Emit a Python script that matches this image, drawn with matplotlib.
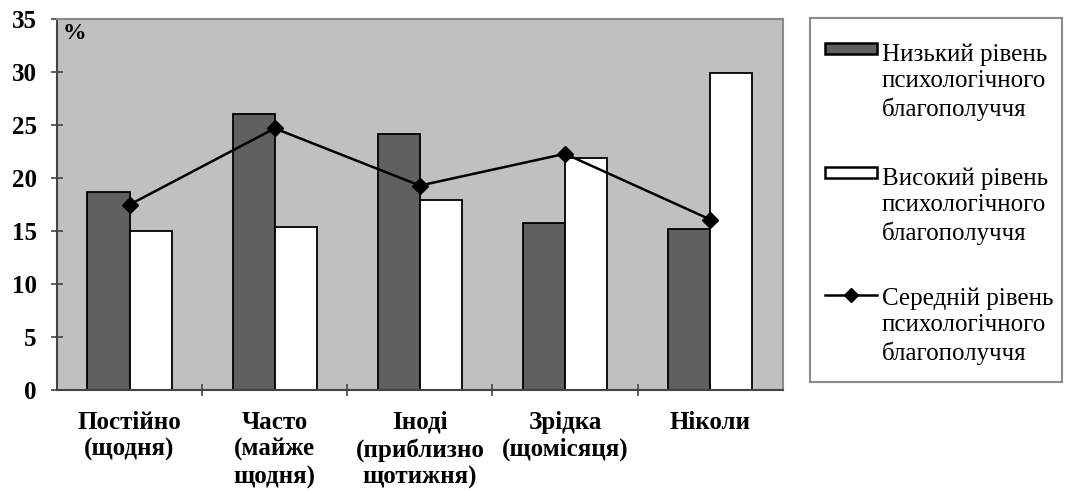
import numpy as np
import matplotlib.pyplot as plt
from matplotlib.patches import Rectangle

plt.rcParams['font.family'] = ['Liberation Serif', 'DejaVu Serif']

categories = ["Постійно\n(щодня)", "Часто\n(майже\nщодня)", "Іноді\n(приблизно\nщотижня)",
              "Зрідка\n(щомісяця)", "Ніколи"]
low_level = [18.7, 26.1, 24.2, 15.8, 15.2]
high_level = [15.0, 15.4, 17.9, 21.9, 29.9]
mid_level = [17.5, 24.7, 19.3, 22.3, 16.1]

series_names = ["Низький рівень\nпсихологічного\nблагополуччя",
                "Високий рівень\nпсихологічного\nблагополуччя",
                "Середній рівень\nпсихологічного\nблагополуччя"]

DARK = "#606060"
BG = "#c0c0c0"
x = np.arange(len(categories))
w = 0.29

fig = plt.figure(figsize=(10.65, 4.92), dpi=100)
ax = fig.add_axes([0.0535, 0.207, 0.6815, 0.754])
ax.set_facecolor(BG)

ax.bar(x - w / 2, low_level, w, color=DARK, edgecolor="black", linewidth=1.3, zorder=2)
ax.bar(x + w / 2, high_level, w, color="white", edgecolor="black", linewidth=1.3, zorder=2)
ax.plot(x, mid_level, color="black", linewidth=1.8, marker="D", markersize=8, zorder=3)

ax.set_xlim(-0.5, len(categories) - 0.5)
ax.set_ylim(0, 35)
ax.set_yticks(range(0, 36, 5))
ax.set_xticks(x)
ax.set_xticklabels(categories, fontsize=18, fontweight="bold", linespacing=1.22)
ax.set_xticks(np.arange(0.5, len(categories) - 0.5), minor=True)
ax.tick_params(axis="x", which="major", length=0, pad=15)
ax.tick_params(axis="x", which="minor", direction="inout", length=9, width=1.2, color="#444444")
ax.tick_params(axis="y", direction="inout", length=9, width=1.2, color="#444444",
               labelsize=18, pad=10)
for lbl in ax.get_yticklabels():
    lbl.set_fontweight("bold")

for side in ["top", "right"]:
    ax.spines[side].set_color("#8a8a8a")
    ax.spines[side].set_linewidth(1.5)
for side in ["left", "bottom"]:
    ax.spines[side].set_color("#444444")
    ax.spines[side].set_linewidth(1.5)

ax.text(0.008, 0.99, "%", transform=ax.transAxes, ha="left", va="top",
        fontsize=17, fontweight="bold")

# legend box drawn in its own pixel-like coordinate space
lax = fig.add_axes([810 / 1065, 1 - 382 / 492, 252 / 1065, 364 / 492])
lax.set_xlim(0, 252)
lax.set_ylim(364, 0)
lax.set_xticks([])
lax.set_yticks([])
for s in lax.spines.values():
    s.set_color("#8a8a8a")
    s.set_linewidth(1.5)

entry_y = [35, 159, 279]
lax.add_patch(Rectangle((15, entry_y[0] - 10), 52, 11, facecolor=DARK,
                        edgecolor="black", linewidth=1.8))
lax.add_patch(Rectangle((15, entry_y[1] - 10), 52, 11, facecolor="white",
                        edgecolor="black", linewidth=1.8))
lax.plot([15, 67], [entry_y[2] - 2, entry_y[2] - 2], color="black", linewidth=1.8)
lax.plot([41], [entry_y[2] - 2], color="black", marker="D", markersize=7)
for y, name in zip(entry_y, series_names):
    lax.text(72, y - 10, name, fontsize=18, ha="left", va="top", linespacing=1.28)

fig.savefig("out.png", dpi=100)
